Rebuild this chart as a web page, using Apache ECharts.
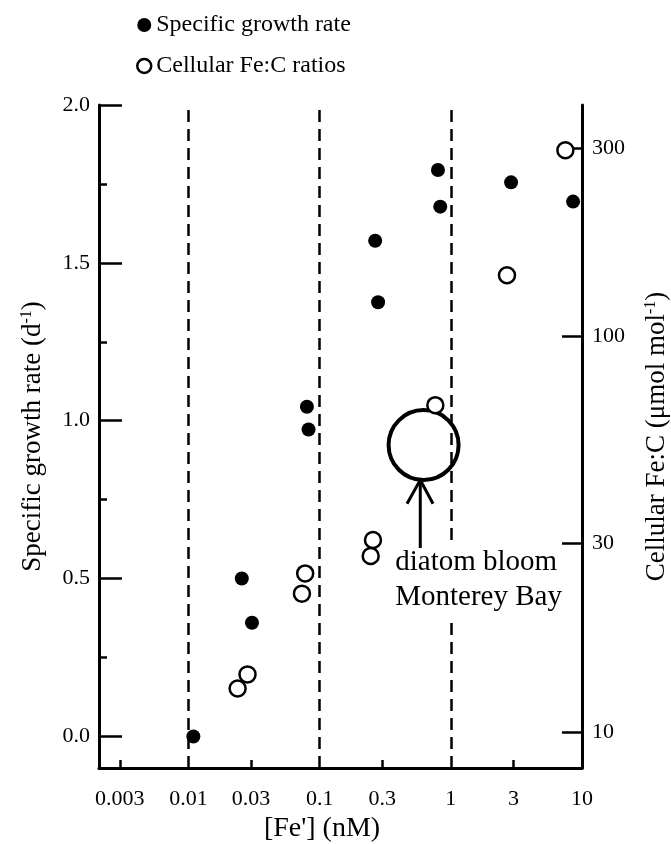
<!DOCTYPE html>
<html>
<head>
<meta charset="utf-8">
<script src="https://cdn.jsdelivr.net/npm/echarts@6/dist/echarts.min.js"></script>
<style>html,body{margin:0;padding:0;background:#fff;}#c{width:671px;height:844px;}</style>
</head>
<body>
<div id="c"></div>
<script>
// ---- data ----
const growthFe   = [0.0109, 0.0255, 0.0305, 0.080, 0.0823, 0.265, 0.279, 0.798, 0.831, 2.88, 8.55];
const growthRate = [0.0, 0.50, 0.36, 1.044, 0.972, 1.570, 1.375, 1.794, 1.678, 1.755, 1.694];
const ratioFe    = [0.0237, 0.0282, 0.0733, 0.0776, 0.245, 0.255, 0.762, 2.68, 7.47];
const ratioFeC   = [12.9, 14.0, 22.4, 25.2, 27.9, 30.6, 67.1, 143, 296];
const bloomFe    = [0.62];
const bloomFeC   = [53.2];
const limitLines = [0.01, 0.1, 1];
const xTickLabels = [0.003, 0.01, 0.03, 0.1, 0.3, 1, 3, 10];
const xTickMarks  = [0.003, 0.03, 0.3, 3];
const leftTicks   = [0, 0.5, 1.0, 1.5, 2.0];
const leftMinor   = [0.25, 0.75, 1.25, 1.75];
const rightTicks  = [10, 30, 100, 300];
// arrow: shaft bottom -> tip, head wings
const arrowShaftFe = [0.585, 0.585];
const arrowShaftC  = [29.2, 43.4];
const arrowHeadFe  = [0.4634, 0.585, 0.7315];
const arrowHeadC   = [37.8, 43.4, 37.8];
const noteFe = 0.377, noteC = 24.3;

const L = Math.log10;
const FONT = '"Liberation Serif", "Times New Roman", serif';
const xMin = L(0.00208), xMax = L(10);
const rMin = 0.9095, rMax = 2.5855;

const chart = echarts.init(document.getElementById('c'));
const gridPos = {left: 99, right: 89, top: 105, bottom: 76, containLabel: false, outerBoundsMode: 'none'};

const option = {
  animation: false,
  backgroundColor: '#fff',
  textStyle: {fontFamily: FONT, color: '#000'},
  legend: {
    orient: 'vertical', left: 131, top: 8,
    itemWidth: 14, itemHeight: 14, itemGap: 17, itemTextGap: 15,
    textStyle: {fontFamily: FONT, fontSize: 24, color: '#000'},
    data: [
      {name: 'Specific growth rate', icon: 'circle', itemStyle: {color: '#000', opacity: 1}},
      {name: 'Cellular Fe:C ratios', icon: 'circle', itemStyle: {color: '#fff', borderColor: '#000', borderWidth: 2.5, opacity: 1}}
    ]
  },
  grid: [Object.assign({}, gridPos), Object.assign({}, gridPos)],
  xAxis: [{
    type: 'value', gridIndex: 0, min: xMin, max: xMax,
    name: "[Fe'] (nM)", nameLocation: 'middle', nameGap: 46,
    nameTextStyle: {fontFamily: FONT, fontSize: 28, color: '#000', padding: [0, 37, 0, 0]},
    axisLine: {show: true, onZero: false, lineStyle: {color: '#000', width: 3}},
    axisTick: {show: true, inside: true, length: 8, lineStyle: {color: '#000', width: 2.5}, customValues: xTickMarks.map(L)},
    axisLabel: {fontFamily: FONT, fontSize: 22, color: '#000', margin: 20, customValues: xTickLabels.map(L),
      formatter: v => { const r = Math.pow(10, v); return String(parseFloat(r.toPrecision(3))); }},
    splitLine: {show: false}
  }, {
    type: 'value', gridIndex: 1, min: xMin, max: xMax, show: false, axisLine: {onZero: false}
  }],
  yAxis: [{
    type: 'value', gridIndex: 0, position: 'left', min: -0.1, max: 2.0,
    name: '{a|Specific growth rate (d}{s|-1}{a|)}', nameLocation: 'middle', nameGap: 52,
    nameTextStyle: {rich: {a: {fontFamily: FONT, fontSize: 27, color: '#000'}, s: {fontFamily: FONT, fontSize: 16, color: '#000', padding: [0, 0, 12, 0]}}},
    axisLine: {show: true, onZero: false, lineStyle: {color: '#000', width: 3}},
    axisTick: {show: true, inside: true, length: 23, lineStyle: {color: '#000', width: 2.5}, customValues: leftTicks},
    axisLabel: {fontFamily: FONT, fontSize: 22, color: '#000', margin: 9, customValues: leftTicks, formatter: v => v.toFixed(1)},
    splitLine: {show: false}
  }, {
    type: 'value', gridIndex: 0, position: 'right', min: rMin, max: rMax,
    name: '{a|Cellular Fe:C (μmol mol}{s|-1}{a|)}', nameLocation: 'middle', nameGap: 61, nameRotate: 90,
    nameTextStyle: {rich: {a: {fontFamily: FONT, fontSize: 27, color: '#000'}, s: {fontFamily: FONT, fontSize: 16, color: '#000', padding: [0, 0, 12, 0]}}},
    axisLine: {show: true, onZero: false, lineStyle: {color: '#000', width: 3}},
    axisTick: {show: true, inside: true, length: 20, lineStyle: {color: '#000', width: 2.5}, customValues: rightTicks.map(L)},
    axisLabel: {fontFamily: FONT, fontSize: 22, color: '#000', margin: 10, customValues: rightTicks.map(L), formatter: v => String(Math.round(Math.pow(10, v)))},
    splitLine: {show: false}
  }, {
    type: 'value', gridIndex: 1, position: 'left', min: -0.1, max: 2.0,
    axisLine: {show: false, onZero: false},
    axisTick: {show: true, inside: true, length: 8, lineStyle: {color: '#000', width: 2.5}, customValues: leftMinor},
    axisLabel: {show: false},
    splitLine: {show: false}
  }],
  series: [
    {
      name: 'Specific growth rate', type: 'scatter', xAxisIndex: 0, yAxisIndex: 0,
      symbol: 'circle', symbolSize: 14, itemStyle: {color: '#000', opacity: 1},
      data: growthFe.map((x, i) => [L(x), growthRate[i]]),
      markLine: {
        silent: true, symbol: ['none', 'none'], label: {show: false},
        lineStyle: {color: '#000', width: 2.5, type: [12, 7], opacity: 1},
        emphasis: {disabled: true},
        data: limitLines.map(v => ({xAxis: L(v)}))
      },
      z: 3
    },
    {
      name: 'Cellular Fe:C ratios', type: 'scatter', xAxisIndex: 0, yAxisIndex: 1,
      symbol: 'circle', symbolSize: 16, itemStyle: {color: '#fff', borderColor: '#000', borderWidth: 2.5, opacity: 1},
      data: ratioFe.map((x, i) => [L(x), L(ratioFeC[i])]),
      z: 4
    },
    {
      name: 'bloom', type: 'scatter', xAxisIndex: 0, yAxisIndex: 1,
      symbol: 'circle', symbolSize: 70, itemStyle: {color: 'rgba(0,0,0,0)', borderColor: '#000', borderWidth: 4, opacity: 1},
      data: bloomFe.map((x, i) => [L(x), L(bloomFeC[i])]), silent: true, z: 2
    },
    {
      name: 'shaft', type: 'line', xAxisIndex: 0, yAxisIndex: 1, symbol: 'none', silent: true,
      lineStyle: {color: '#000', width: 3}, z: 7,
      data: arrowShaftFe.map((x, i) => [L(x), L(arrowShaftC[i])])
    },
    {
      name: 'head', type: 'line', xAxisIndex: 0, yAxisIndex: 1, symbol: 'none', silent: true,
      lineStyle: {color: '#000', width: 3}, z: 7,
      data: arrowHeadFe.map((x, i) => [L(x), L(arrowHeadC[i])])
    },
    {
      name: 'note', type: 'scatter', xAxisIndex: 0, yAxisIndex: 1, symbolSize: 0, silent: true,
      itemStyle: {opacity: 1}, z: 6,
      data: [[L(noteFe), L(noteC)]],
      label: {show: true, position: 'right', distance: 0, formatter: 'diatom bloom\nMonterey Bay',
        fontFamily: FONT, fontSize: 29, lineHeight: 35, color: '#000', align: 'left', verticalAlign: 'middle',
        backgroundColor: '#fff', padding: [0, 0, 4, 0]}
    }
  ]
};
chart.setOption(option);
</script>
</body>
</html>
